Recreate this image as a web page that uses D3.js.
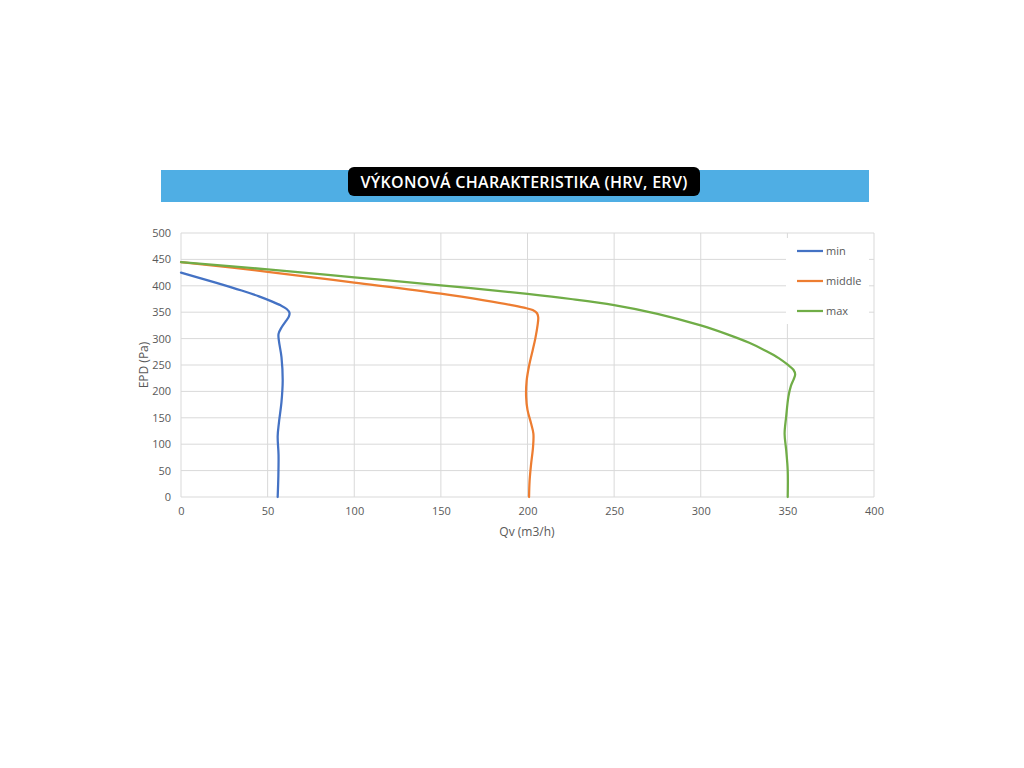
<!DOCTYPE html>
<html>
<head>
<meta charset="utf-8">
<script src="https://cdn.jsdelivr.net/npm/d3@7"></script>
<style>
  html, body { margin: 0; padding: 0; background: #ffffff; }
  svg { display: block; }
</style>
</head>
<body>
<svg id="chart" width="1024" height="768"></svg>
<script>
// Fan performance curves: airflow Qv (m3/h) against external pressure EPD (Pa)
const titleText = "VÝKONOVÁ CHARAKTERISTIKA (HRV, ERV)";
const xTicks = [0, 50, 100, 150, 200, 250, 300, 350, 400];
const yTicks = [0, 50, 100, 150, 200, 250, 300, 350, 400, 450, 500];
const seriesNames = ["min", "middle", "max"];
const seriesColors = ["#4472C4", "#ED7D31", "#70AD47"];

// [Qv, EPD] points per speed setting, ordered by falling pressure
const minCurve = [
  [0, 425], [20, 406], [35, 391], [45, 380], [52, 371], [57.5, 363],
  [61, 356], [62.6, 349], [62.3, 342], [60.5, 333], [58, 321],
  [56.3, 309], [56.5, 296], [58, 265], [58.7, 220], [58, 180],
  [56.5, 140], [55.8, 115], [56.3, 80], [56.2, 40], [55.8, 0]
];
const middleCurve = [
  [0, 445], [50, 426.5], [100, 406], [150, 385], [175, 372.5],
  [190, 364], [198, 358.5], [203, 354], [205.5, 348], [206.2, 340],
  [205.8, 325], [204.5, 300], [203, 278], [201, 250], [199.5, 220],
  [199.2, 190], [200, 165], [202, 140], [203.4, 120], [203.2, 95],
  [202, 60], [201.2, 30], [200.9, 0]
];
const maxCurve = [
  [0, 445], [50, 431], [100, 416], [150, 401], [200, 384.5],
  [225, 375], [250, 363.5], [275, 347], [300, 325], [315, 308.5],
  [328, 292], [338, 276], [345, 263], [350, 251], [353.5, 241],
  [354.5, 232], [353.5, 222], [352, 210], [350.6, 190], [349.3, 152],
  [348.4, 120], [349.3, 89], [350.2, 50], [350.2, 0]
];
const seriesData = [minCurve, middleCurve, maxCurve];

const svg = d3.select("#chart");

// Header band with the title badge
svg.append("rect").attr("x", 161).attr("y", 170).attr("width", 708).attr("height", 32)
  .attr("fill", "#4FAEE4");
svg.append("rect").attr("x", 348).attr("y", 167).attr("width", 352).attr("height", 29)
  .attr("rx", 6).attr("fill", "#000000");
svg.append("text").attr("x", 524).attr("y", 187.5)
  .attr("text-anchor", "middle")
  .attr("font-family", "'Open Sans', sans-serif").attr("font-weight", 600)
  .attr("font-size", 16).attr("letter-spacing", 0.3).attr("fill", "#ffffff")
  .text(titleText);

// Plot area
const x = d3.scaleLinear().domain([0, 400]).range([181, 874]);
const y = d3.scaleLinear().domain([0, 500]).range([497, 233]);
const font = "'Open Sans', sans-serif";
const labelColor = "#595959";
const gridColor = "#d9d9d9";

const grid = svg.append("g");
grid.selectAll(".gy").data(yTicks).join("line")
  .attr("x1", x(0)).attr("x2", x(400))
  .attr("y1", d => y(d)).attr("y2", d => y(d))
  .attr("stroke", gridColor).attr("stroke-width", 1);
grid.selectAll(".gx").data(xTicks).join("line")
  .attr("x1", d => x(d)).attr("x2", d => x(d))
  .attr("y1", y(0)).attr("y2", y(500))
  .attr("stroke", gridColor).attr("stroke-width", 1);

// Axes (labels only; lines come from the grid)
const xAxis = svg.append("g").attr("transform", `translate(0,${y(0)})`)
  .call(d3.axisBottom(x).tickValues(xTicks).tickSize(0).tickPadding(10));
const yAxis = svg.append("g").attr("transform", `translate(${x(0)},0)`)
  .call(d3.axisLeft(y).tickValues(yTicks).tickSize(0).tickPadding(10));
[xAxis, yAxis].forEach(a => {
  a.select(".domain").remove();
  a.selectAll("text").attr("font-family", font).attr("font-size", 11)
    .attr("fill", labelColor);
});

svg.append("text").attr("x", 527).attr("y", 536).attr("text-anchor", "middle")
  .attr("font-family", font).attr("font-size", 12).attr("fill", labelColor)
  .text("Qv (m3/h)");
svg.append("text").attr("transform", `translate(148,${y(250)}) rotate(-90)`)
  .attr("text-anchor", "middle")
  .attr("font-family", font).attr("font-size", 12).attr("fill", labelColor)
  .text("EPD (Pa)");

// Smoothed curves through the measured points
const line = d3.line().x(d => x(d[0])).y(d => y(d[1]))
  .curve(d3.curveCatmullRom.alpha(0.5));
svg.append("g").selectAll("path").data(seriesData).join("path")
  .attr("d", line).attr("fill", "none")
  .attr("stroke", (d, i) => seriesColors[i]).attr("stroke-width", 2.25)
  .attr("stroke-linejoin", "round").attr("stroke-linecap", "round");

// Legend box
const legend = svg.append("g");
legend.append("rect").attr("x", 786).attr("y", 238).attr("width", 83).attr("height", 86)
  .attr("fill", "#ffffff");
seriesNames.forEach((name, i) => {
  const ly = 251 + i * 30;
  legend.append("line").attr("x1", 797).attr("x2", 823).attr("y1", ly).attr("y2", ly)
    .attr("stroke", seriesColors[i]).attr("stroke-width", 2.25);
  legend.append("text").attr("x", 826).attr("y", ly + 4)
    .attr("font-family", font).attr("font-size", 11).attr("fill", labelColor)
    .text(name);
});
</script>
</body>
</html>
